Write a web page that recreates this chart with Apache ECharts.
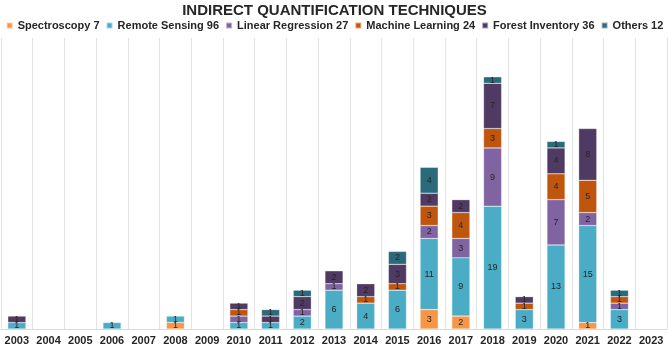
<!DOCTYPE html>
<html>
<head>
<meta charset="utf-8">
<script src="https://cdn.jsdelivr.net/npm/echarts@6/dist/echarts.min.js"></script>
<style>
  html, body { margin: 0; padding: 0; background: #fff; }
  #chart { width: 669px; height: 346px; }
</style>
</head>
<body>
<div id="chart"></div>
<script>
const years = ['2003', '2004', '2005', '2006', '2007', '2008', '2009', '2010', '2011', '2012', '2013',
  '2014', '2015', '2016', '2017', '2018', '2019', '2020', '2021', '2022', '2023']

const spectroscopy     = [0, 0, 0, 0, 0, 1, 0, 0, 0, 0, 0, 0, 0, 3, 2, 0, 0, 0, 1, 0, 0]
const remoteSensing    = [1, 0, 0, 1, 0, 1, 0, 1, 1, 2, 6, 4, 6, 11, 9, 19, 3, 13, 15, 3, 0]
const linearRegression = [0, 0, 0, 0, 0, 0, 0, 1, 0, 1, 1, 0, 0, 2, 3, 9, 0, 7, 2, 1, 0]
const machineLearning  = [0, 0, 0, 0, 0, 0, 0, 1, 0, 0, 0, 1, 1, 3, 4, 3, 1, 4, 5, 1, 0]
const forestInventory  = [1, 0, 0, 0, 0, 0, 0, 1, 1, 2, 2, 2, 3, 2, 2, 7, 1, 4, 8, 0, 0]
const others           = [0, 0, 0, 0, 0, 0, 0, 0, 1, 1, 0, 0, 2, 4, 0, 1, 0, 1, 0, 1, 0]

const seriesDefs = [
  { name: 'Spectroscopy 7', data: spectroscopy, color: '#F79646' },
  { name: 'Remote Sensing 96', data: remoteSensing, color: '#4BACC6' },
  { name: 'Linear Regression 27', data: linearRegression, color: '#8064A2' },
  { name: 'Machine Learning 24', data: machineLearning, color: '#C0560E' },
  { name: 'Forest Inventory 36', data: forestInventory, color: '#4F3A63' },
  { name: 'Others 12', data: others, color: '#2A6A7B' },
]

const chart = echarts.init(document.getElementById('chart'))

chart.setOption({
  animation: false,
  title: {
    text: 'INDIRECT QUANTIFICATION TECHNIQUES',
    left: 'center',
    top: 3,
    padding: 0,
    textStyle: { fontFamily: 'Liberation Sans', fontSize: 15, fontWeight: 'bold', color: '#262626' },
  },
  legend: {
    top: 20,
    left: 'center',
    width: 669,
    padding: 0,
    itemWidth: 6,
    itemHeight: 6,
    itemGap: 6,
    icon: 'rect',
    textStyle: { fontFamily: 'Liberation Sans', fontSize: 11, fontWeight: 'bold', color: '#262626' },
  },
  grid: { left: 1, right: 2, top: 38, bottom: 16, containLabel: false },
  xAxis: {
    type: 'category',
    data: years,
    axisTick: { show: false },
    axisLine: { lineStyle: { color: '#d9d9d9' } },
    splitLine: { show: true, lineStyle: { color: '#e3e3e3', width: 1 } },
    axisLabel: {
      interval: 0,
      margin: 6,
      fontFamily: 'Liberation Sans',
      fontSize: 11,
      fontWeight: 'bold',
      color: '#262626',
    },
  },
  yAxis: {
    type: 'value',
    min: 0,
    max: 45,
    show: false,
    splitLine: { show: false },
  },
  series: seriesDefs.map((s) => ({
    name: s.name,
    type: 'bar',
    stack: 'total',
    barCategoryGap: '43%',
    data: s.data.map((v) => (v === 0 ? null : v)),
    itemStyle: { color: s.color, borderColor: 'rgba(255,255,255,0.5)', borderWidth: 0.5 },
    label: {
      show: true,
      position: 'inside',
      fontFamily: 'Liberation Sans',
      fontSize: 9,
      color: '#262626',
    },
  })),
})
</script>
</body>
</html>
